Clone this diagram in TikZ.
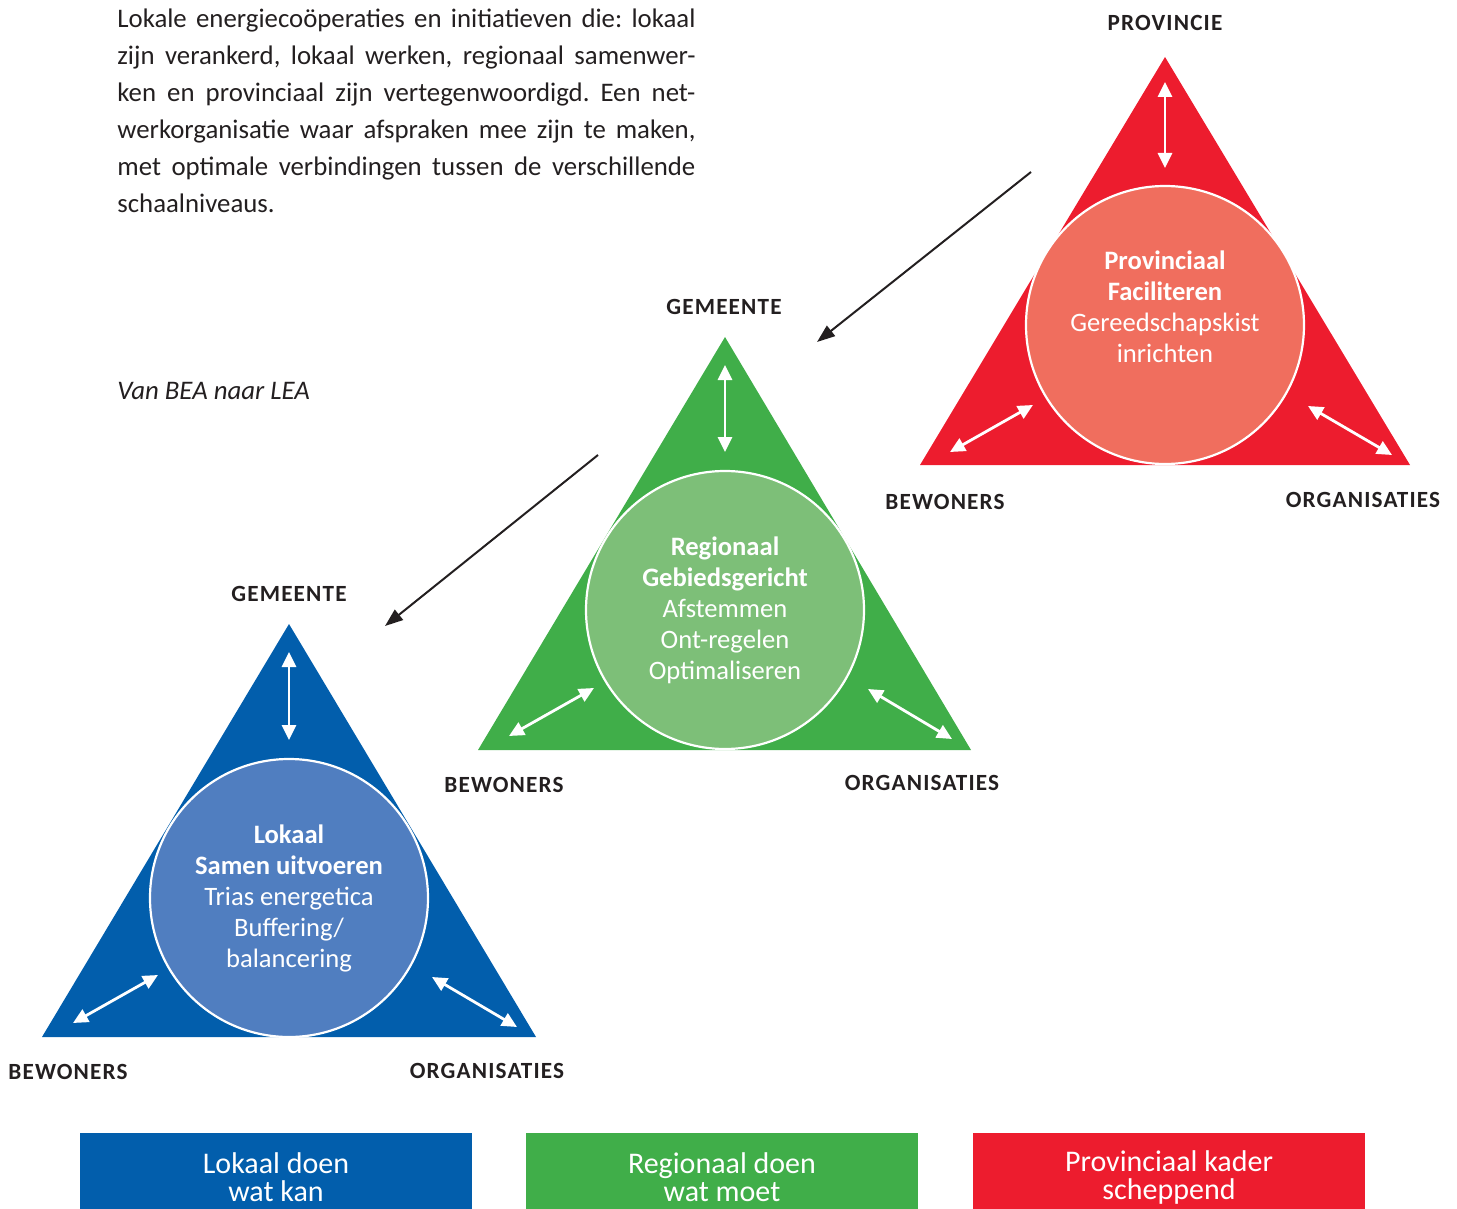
\documentclass[tikz,border=0pt]{standalone}
\usepackage{fontspec}
\setmainfont{Carlito}
\newfontfamily\hoekfont[LetterSpace=5]{Carlito}
\usetikzlibrary{arrows.meta}
\definecolor{tekst}{RGB}{35,31,32}
\definecolor{lokaal}{RGB}{2,94,172}
\definecolor{lokaalkern}{RGB}{80,126,192}
\definecolor{regio}{RGB}{64,174,73}
\definecolor{regiokern}{RGB}{125,191,120}
\definecolor{provincie}{RGB}{237,28,46}
\definecolor{provinciekern}{RGB}{240,110,94}
\frenchspacing
\tikzset{
	hoek/.style={text=tekst, inner sep=0pt, font=\hoekfont\bfseries\fontsize{11.6}{13}\selectfont},
	kern/.style={circle, draw=white, line width=1.1pt, minimum size=139pt, inner sep=0pt,
		align=center, text=white, font=\fontsize{13.3}{15.5}\selectfont},
	pijl/.style={white, line width=1.4pt, {Triangle[length=7.5pt,width=7pt]}-{Triangle[length=7.5pt,width=7pt]}},
	stap/.style={tekst, line width=1pt, -{Triangle[length=9pt,width=6.5pt]}},
	vak/.style={minimum width=196pt, minimum height=44pt, inner sep=0pt, align=center,
		text=white, font=\fontsize{15}{14}\selectfont}
}

\begin{document}
\begin{tikzpicture}[x=0.5pt, y=-0.5pt]
		\useasboundingbox (0,0) rectangle (1457,1209);
		\clip (0,0) rectangle (1457,1209);
		% tekst
		\node[anchor=north west, inner sep=0pt, text width=289pt, align=justify, text=tekst,
			font=\fontsize{13.4}{18.5}\selectfont] (intro) at (117,8)
			{Lokale energiecoöperaties en initiatieven die: lokaal\linebreak
			zijn verankerd, lokaal werken, regionaal samenwer-\linebreak
			ken en provinciaal zijn vertegenwoordigd. Een net-\linebreak
			werkorganisatie waar afspraken mee zijn te maken,\linebreak
			met optimale verbindingen tussen de verschillende\linebreak
			schaalniveaus.};
		\node[anchor=west, inner sep=0pt, text=tekst, font=\itshape\fontsize{13.4}{15}\selectfont] (titel) at (117,391) {Van BEA naar LEA};
		
		% provinciaal
		\coordinate (p-top) at (1165,57);
		\coordinate (p-links) at (920,465);
		\coordinate (p-rechts) at (1410,465);
		\fill[provincie] (p-top) -- (p-links) -- (p-rechts) -- cycle;
		\node[kern, fill=provinciekern] (p-kern) at (1165,325)
			{\textbf{Provinciaal}\\\textbf{Faciliteren}\\Gereedschapskist\\inrichten\\[3pt]\mbox{}};
		\coordinate (p1) at (1165,82);  \coordinate (p2) at (1165,168);
		\coordinate (p3) at (950,452);  \coordinate (p4) at (1033,405);
		\coordinate (p5) at (1308,406); \coordinate (p6) at (1392,455);
		\draw[pijl] (p1) -- (p2);
		\draw[pijl] (p3) -- (p4);
		\draw[pijl] (p5) -- (p6);
		\node[hoek] (p-prov) at (1165,23) {PROVINCIE};
		\node[hoek] (p-bew) at (945,502) {BEWONERS};
		\node[hoek] (p-org) at (1363,500) {ORGANISATIES};
		
		% regionaal
		\coordinate (r-top) at (725,337);
		\coordinate (r-links) at (478,750);
		\coordinate (r-rechts) at (971,750);
		\fill[regio] (r-top) -- (r-links) -- (r-rechts) -- cycle;
		\node[kern, fill=regiokern] (r-kern) at (725,610)
			{\textbf{Regionaal}\\\textbf{Gebiedsgericht}\\Afstemmen\\Ont-regelen\\Optimaliseren};
		\coordinate (r1) at (725,365);  \coordinate (r2) at (725,452);
		\coordinate (r3) at (509,736);  \coordinate (r4) at (594,688);
		\coordinate (r5) at (868,689);  \coordinate (r6) at (952,739);
		\draw[pijl] (r1) -- (r2);
		\draw[pijl] (r3) -- (r4);
		\draw[pijl] (r5) -- (r6);
		\node[hoek] (r-gem) at (724,307) {GEMEENTE};
		\node[hoek] (r-bew) at (504,785) {BEWONERS};
		\node[hoek] (r-org) at (922,783) {ORGANISATIES};
		
		% lokaal
		\coordinate (l-top) at (289,624);
		\coordinate (l-links) at (42,1037);
		\coordinate (l-rechts) at (536,1037);
		\fill[lokaal] (l-top) -- (l-links) -- (l-rechts) -- cycle;
		\node[kern, fill=lokaalkern] (l-kern) at (289,898)
			{\textbf{Lokaal}\\\textbf{Samen uitvoeren}\\Trias energetica\\Buffering/\\balancering};
		\coordinate (l1) at (289,652);  \coordinate (l2) at (289,740);
		\coordinate (l3) at (73,1023);  \coordinate (l4) at (158,975);
		\coordinate (l5) at (432,977);  \coordinate (l6) at (517,1027);
		\draw[pijl] (l1) -- (l2);
		\draw[pijl] (l3) -- (l4);
		\draw[pijl] (l5) -- (l6);
		\node[hoek] (l-gem) at (289,594) {GEMEENTE};
		\node[hoek] (l-bew) at (68,1072) {BEWONERS};
		\node[hoek] (l-org) at (487,1071) {ORGANISATIES};
		
		% van boven naar beneden
		\coordinate (s1) at (1031,172); \coordinate (s2) at (817,342);
		\coordinate (s3) at (598,455);  \coordinate (s4) at (385,626);
		\draw[stap] (s1) -- (s2);
		\draw[stap] (s3) -- (s4);
		
		% vakken
		\node[vak, fill=lokaal] (v-lok) at (276,1177) {Lokaal doen\\wat kan};
		\node[vak, fill=regio] (v-reg) at (722,1177) {Regionaal doen\\wat moet};
		\node[vak, fill=provincie] (v-prov) at (1169,1177) {Provinciaal kader\\scheppend};
\end{tikzpicture}
\end{document}
